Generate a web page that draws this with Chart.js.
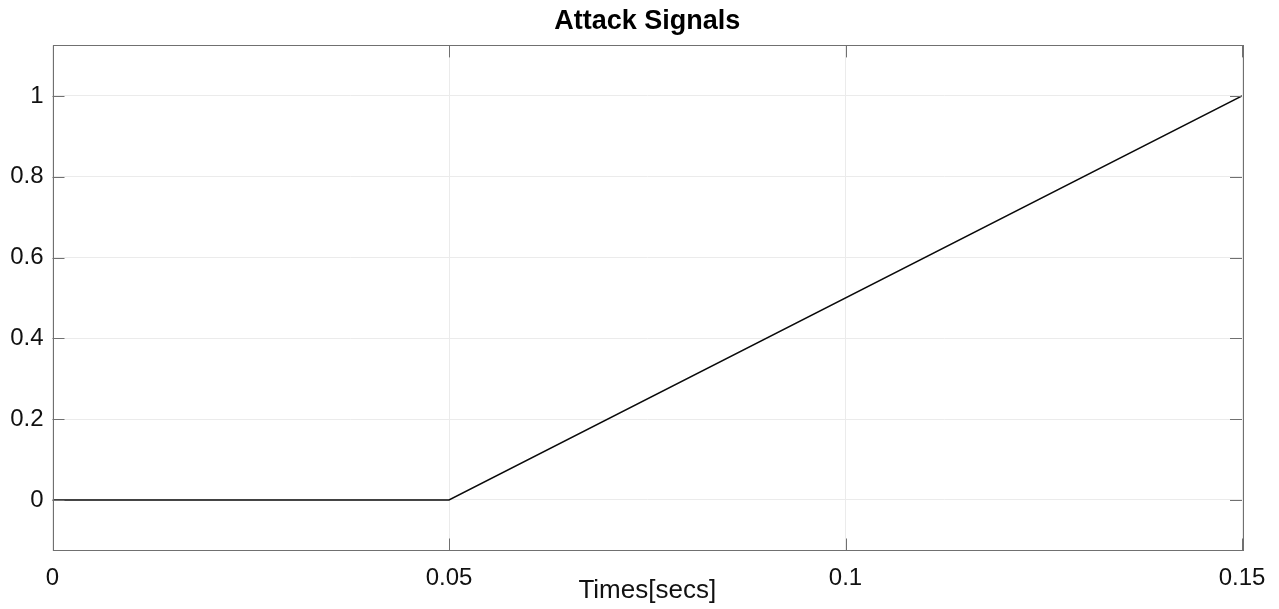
<!DOCTYPE html>
<html>
<head>
<meta charset="utf-8">
<script src="https://cdn.jsdelivr.net/npm/chart.js@4/dist/chart.umd.min.js"></script>
<style>
  html, body { margin: 0; padding: 0; background: #fff; }
  #wrap { width: 1279px; height: 609px; }
</style>
</head>
<body>
<div id="wrap"><canvas id="attackChart" width="1279" height="609"></canvas></div>
<script>
// signal samples (time in secs, value)
const timeValues = [0, 0.05, 0.15];
const signalValues = [0, 0, 1];
const xTicks = [0, 0.05, 0.1, 0.15];
const yTicks = [0, 0.2, 0.4, 0.6, 0.8, 1];

const boxColor = "#707070";
const fontFamily = "'Liberation Sans', Arial, sans-serif";

// MATLAB-style box with inward ticks on all four sides
const boxPlugin = {
    id: "boxTicks",
    afterLayout(chart) {
        // centre the title over the plot area, not the whole canvas
        if (chart.titleBlock) {
            chart.titleBlock.left = chart.chartArea.left;
            chart.titleBlock.right = chart.chartArea.right;
        }
    },
    afterDraw(chart) {
        const ctx = chart.ctx;
        const area = chart.chartArea;
        const xs = chart.scales.x;
        const ys = chart.scales.y;
        const len = 12;
        ctx.save();
        ctx.strokeStyle = boxColor;
        ctx.lineWidth = 1;
        ctx.beginPath();
        xTicks.forEach(v => {
            const px = Math.round(xs.getPixelForValue(v)) + 0.5;
            ctx.moveTo(px, area.bottom);
            ctx.lineTo(px, area.bottom - len);
            ctx.moveTo(px, area.top);
            ctx.lineTo(px, area.top + len);
        });
        yTicks.forEach(v => {
            const py = Math.round(ys.getPixelForValue(v)) + 0.5;
            ctx.moveTo(area.left, py);
            ctx.lineTo(area.left + len, py);
            ctx.moveTo(area.right, py);
            ctx.lineTo(area.right - len, py);
        });
        ctx.stroke();
        ctx.strokeRect(Math.round(area.left) + 0.5, Math.round(area.top) + 0.5,
            Math.round(area.right - area.left), Math.round(area.bottom - area.top));
        ctx.restore();
    }
};

const points = timeValues.map((t, i) => ({ x: t, y: signalValues[i] }));

new Chart(document.getElementById("attackChart"), {
    type: "scatter",
    data: {
        datasets: [{
            data: points,
            showLine: true,
            borderColor: "#0a0a0a",
            borderWidth: 1.4,
            pointRadius: 0,
            fill: false
        }]
    },
    options: {
        responsive: false,
        animation: false,
        layout: { padding: { left: 0, right: 37, top: 0, bottom: 0 } },
        plugins: {
            legend: { display: false },
            tooltip: { enabled: false },
            title: {
                display: true,
                text: "Attack Signals",
                color: "#000",
                font: { family: fontFamily, size: 27, weight: "bold" },
                padding: { top: 5, bottom: 8 }
            }
        },
        scales: {
            x: {
                type: "linear",
                min: 0,
                max: 0.15,
                afterBuildTicks: s => { s.ticks = xTicks.map(v => ({ value: v })); },
                afterFit: s => { s.height = 58.5; },
                grid: { color: "#ebebeb", drawTicks: false },
                border: { display: false },
                ticks: {
                    color: "#111",
                    padding: 13,
                    maxRotation: 0,
                    font: { family: fontFamily, size: 24 },
                    callback: v => String(v)
                },
                title: {
                    display: true,
                    text: "Times[secs]",
                    color: "#111",
                    font: { family: fontFamily, size: 26 },
                    padding: { top: 0, bottom: 3 }
                }
            },
            y: {
                type: "linear",
                min: -0.125,
                max: 1.125,
                afterBuildTicks: s => { s.ticks = yTicks.map(v => ({ value: v })); },
                afterFit: s => { s.width = 52.5; },
                grid: { color: "#ebebeb", drawTicks: false },
                border: { display: false },
                ticks: {
                    color: "#111",
                    padding: 9,
                    font: { family: fontFamily, size: 24 },
                    callback: v => String(Math.round(v * 10) / 10)
                }
            }
        }
    },
    plugins: [boxPlugin]
});
</script>
</body>
</html>
